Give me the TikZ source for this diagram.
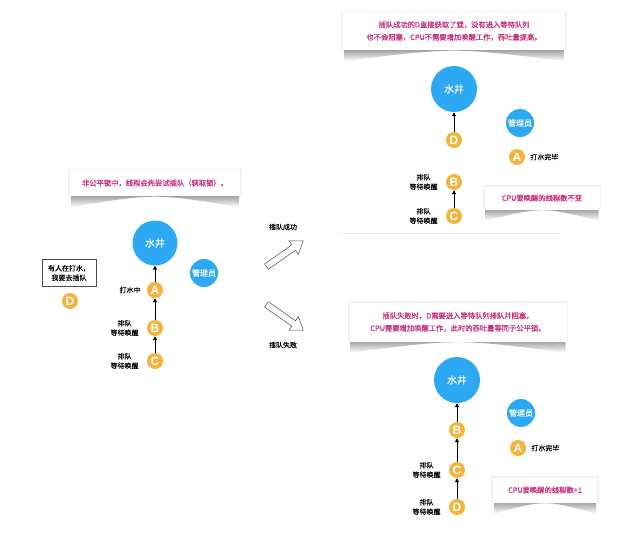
\documentclass[tikz,border=0pt]{standalone}
\usepackage{fontspec}
\setmainfont{Noto Sans CJK SC}
\newfontfamily\notefont{Noto Sans CJK SC}[FakeBold=0.8]
\newfontfamily\tagfont{Noto Sans CJK SC}[FakeBold=0.25]
\newfontfamily\letterfont{Liberation Sans}
\usetikzlibrary{shapes,shapes.arrows,positioning,calc,backgrounds,arrows.meta}
\definecolor{wellblue}{HTML}{2DA8F3}
\definecolor{threadorange}{HTML}{F5B33B}
\definecolor{notepink}{HTML}{C8307D}

\begin{document}
\begin{tikzpicture}
  [x=1pt,y=-1pt,
   wellN/.style={circle,fill=wellblue,text=white,minimum size=45pt,inner sep=0pt,font=\tagfont\fontsize{10}{12}\selectfont},
   adminN/.style={circle,fill=wellblue,text=white,minimum size=28pt,inner sep=0pt,font=\tagfont\fontsize{8}{10}\selectfont},
   threadN/.style={circle,fill=threadorange,text=white,minimum size=16pt,inner sep=0pt,font=\letterfont\fontsize{12}{12}\selectfont\bfseries},
   tagN/.style={font=\tagfont\fontsize{7}{9.5}\selectfont,align=center,inner sep=1pt},
   noteN/.style={fill=white,text=notepink,align=center,font=\notefont\fontsize{7.3}{12.5}\selectfont,inner sep=0pt},
   askN/.style={draw=black!70,fill=white,align=center,font=\tagfont\fontsize{7}{9.5}\selectfont,minimum width=54pt,minimum height=27pt,inner sep=1pt},
   bigarrow/.style={single arrow,draw=black!70,line width=0.5pt,minimum height=45pt,inner sep=3pt,
                    single arrow head extend=5pt,single arrow tip angle=70},
   link/.style={line width=0.9pt,-{Triangle[length=4pt,width=4pt]}}]

  \useasboundingbox (0,0) rectangle (619,544);

  % before: D tries to cut in
  \node[noteN,minimum width=170pt,minimum height=26pt] (calloutL) at (155,183) {非公平锁中，线程会先尝试插队（获取锁）。};
  \node[wellN] (wellL) at (155,243) {水井};
  \node[adminN] (adminL) at (204,273) {管理员};
  \node[threadN] (aL) at (155,290) {A};
  \node[threadN] (bL) at (155,328) {B};
  \node[threadN] (cL) at (155,361) {C};
  \node[askN] (askD) at (69,273) {有人在打水，\\我要去插队};
  \node[threadN] (dL) at (70,301) {D};
  \node[tagN,left=5pt of aL] {打水中};
  \node[tagN,left=7pt of bL] {排队\\等待唤醒};
  \node[tagN,left=7pt of cL] {排队\\等待唤醒};

  \draw[link] (cL) -- (bL);
  \draw[link] (bL) -- (aL);
  \draw[link] (aL) -- (wellL);

  % the two outcomes
  \node[bigarrow,rotate=35] (toS) at (283,255) {};
  \node[bigarrow,rotate=-35] (toF) at (283,316) {};
  \node[tagN] (tagS) at (283,227) {插队成功};
  \node[tagN] (tagF) at (283,345) {插队失败};

  % success
  \node[noteN,minimum width=222pt,minimum height=38pt] (calloutS) at (454,31) {插队成功的D直接获取了锁，没有进入等待队列\\也不会阻塞，CPU不需要增加唤醒工作，吞吐量提高。};
  \node[wellN,minimum size=46pt] (wellS) at (454,89) {水井};
  \node[adminN] (adminS) at (520,123) {管理员};
  \node[threadN] (dS) at (454,140) {D};
  \node[threadN] (aS) at (517,157) {A};
  \node[threadN] (bS) at (454,182) {B};
  \node[threadN] (cS) at (454,216) {C};
  \node[tagN,right=4pt of aS] {打水完毕};
  \node[tagN,left=7pt of bS] {排队\\等待唤醒};
  \node[tagN,left=7pt of cS] {排队\\等待唤醒};
  \node[noteN,minimum width=115pt,minimum height=23pt] (noteS) at (542,198) {CPU要唤醒的线程数不变};

  \draw[link] (dS) -- (wellS);
  \draw[link] (cS) -- (bS);
  \draw[gray!15] (339,233) -- (560,233);

  % failure
  \node[noteN,minimum width=217pt,minimum height=39pt] (calloutF) at (458,322) {插队失败时，D需要进入等待队列排队并阻塞，\\CPU需要增加唤醒工作，此时的吞吐量等同于公平锁。};
  \node[wellN,minimum size=46pt] (wellF) at (457,380) {水井};
  \node[adminN] (adminF) at (521,413) {管理员};
  \node[threadN] (bF) at (457,430) {B};
  \node[threadN] (aF) at (518,448) {A};
  \node[threadN] (cF) at (457,470) {C};
  \node[threadN] (dF) at (457,507) {D};
  \node[tagN,right=4pt of aF] {打水完毕};
  \node[tagN,left=7pt of cF] {排队\\等待唤醒};
  \node[tagN,left=7pt of dF] {排队\\等待唤醒};
  \node[noteN,minimum width=104pt,minimum height=25pt] (noteF) at (545,490) {CPU要唤醒的线程数+1};

  \draw[link] (bF) -- (wellF);
  \draw[link] (cF) -- (bF);
  \draw[link] (dF) -- (cF);

  % curled paper shadows
  \begin{scope}[on background layer]
    \foreach \n in {calloutL,calloutS,calloutF,noteS,noteF}{
      \fill[gray!10] ([xshift=-1.5pt,yshift=1pt]\n.north west) rectangle ([xshift=1.5pt]\n.south east);
      \shade[top color=black!45,bottom color=white]
        ([xshift=1pt]\n.south west) -- ([xshift=-1pt]\n.south east)
        -- ([xshift=-1pt,yshift=-11pt]\n.south east)
        .. controls ([yshift=3pt]\n.south) .. ([xshift=1pt,yshift=-11pt]\n.south west) -- cycle;
    }
  \end{scope}
\end{tikzpicture}
\end{document}
